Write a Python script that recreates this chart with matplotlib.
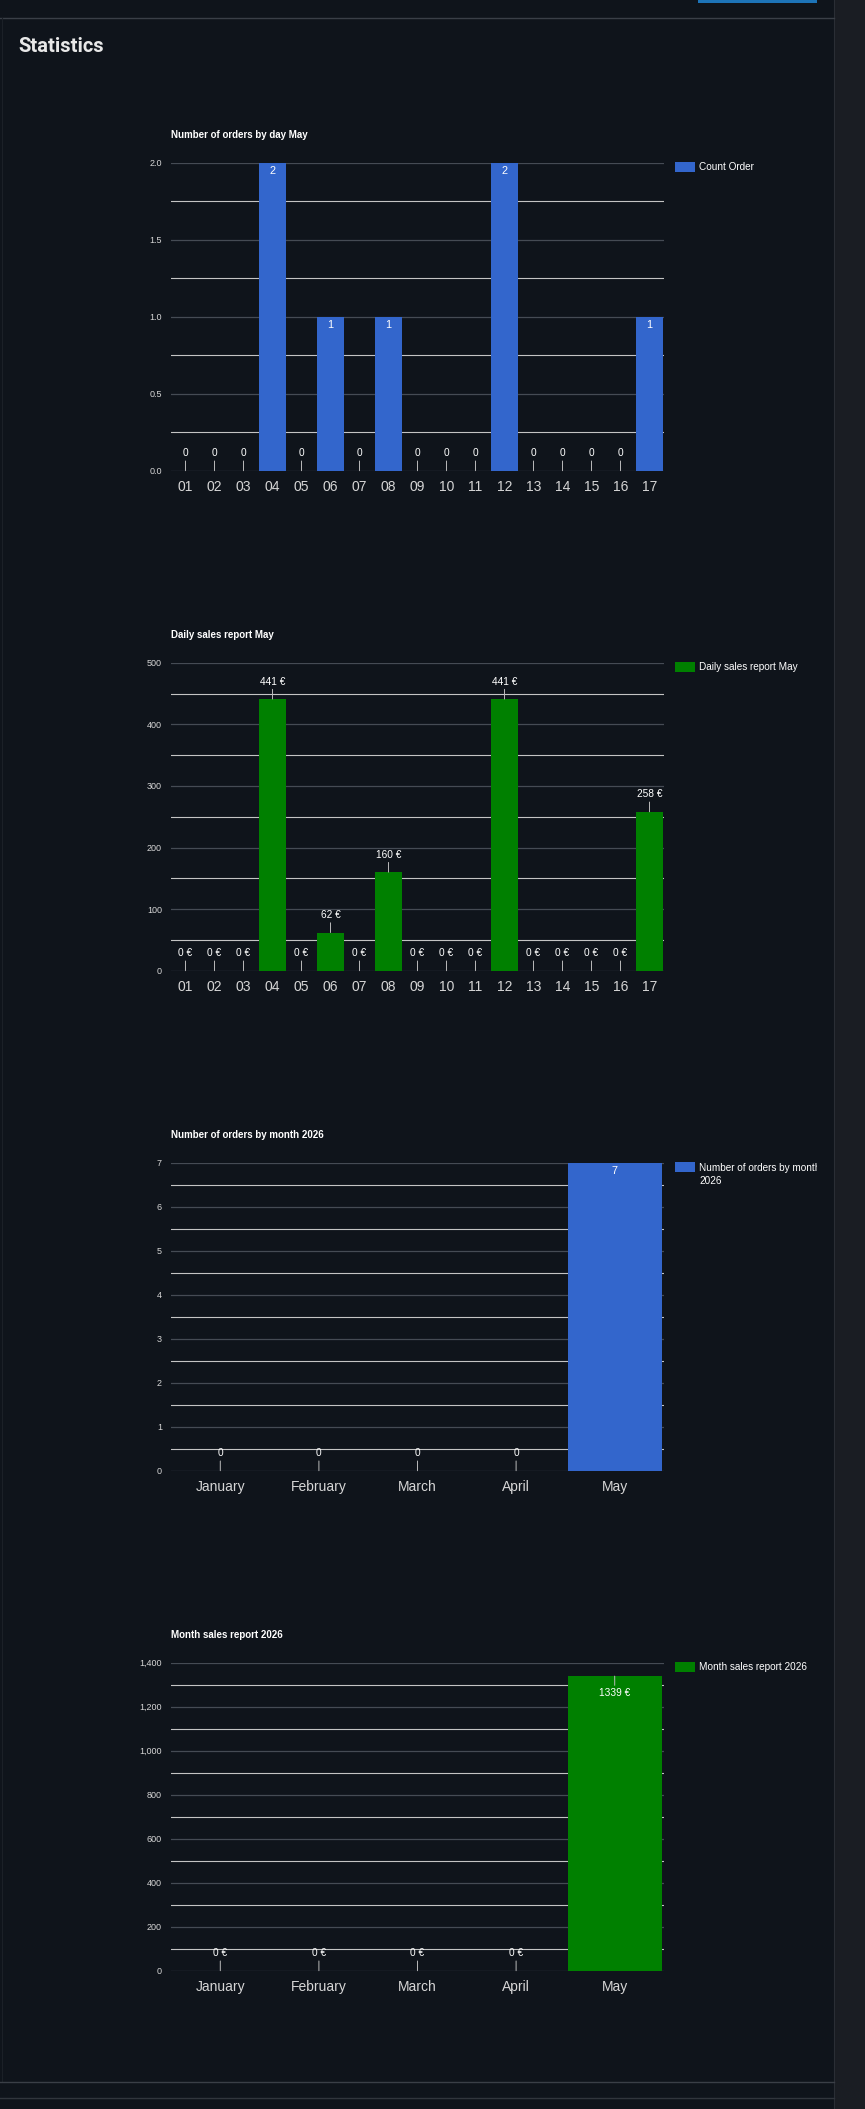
import matplotlib
matplotlib.use("Agg")
import matplotlib.pyplot as plt
from matplotlib.patches import Rectangle

# ---------------- data ----------------
days = ["01", "02", "03", "04", "05", "06", "07", "08", "09",
        "10", "11", "12", "13", "14", "15", "16", "17"]
day_orders = [0, 0, 0, 2, 0, 1, 0, 1, 0, 0, 0, 2, 0, 0, 0, 0, 1]
day_sales = [0, 0, 0, 441, 0, 62, 0, 160, 0, 0, 0, 441, 0, 0, 0, 0, 258]

months = ["January", "February", "March", "April", "May"]
month_orders = [0, 0, 0, 0, 7]
month_sales = [0, 0, 0, 0, 1339]

day_order_ticks = [0.0, 0.5, 1.0, 1.5, 2.0]
day_order_tick_labels = ["0.0", "0.5", "1.0", "1.5", "2.0"]
day_sales_ticks = [0, 100, 200, 300, 400, 500]
day_sales_tick_labels = ["0", "100", "200", "300", "400", "500"]
month_order_ticks = [0, 1, 2, 3, 4, 5, 6, 7]
month_order_tick_labels = ["0", "1", "2", "3", "4", "5", "6", "7"]
month_sales_ticks = [0, 200, 400, 600, 800, 1000, 1200, 1400]
month_sales_tick_labels = ["0", "200", "400", "600", "800", "1,000", "1,200", "1,400"]

titles = ["Number of orders by day May", "Daily sales report May",
          "Number of orders by month 2026", "Month sales report 2026"]
legend_labels = ["Count Order", "Daily sales report May",
                 "Number of orders by month 2026", "Month sales report 2026"]

# ---------------- style ----------------
W, H = 865, 2109
DPI = 100
BG = "#0f141b"
PANEL = "#1a1d23"
BLUE = "#3366cc"
GREEN = "#008000"
MAJOR = "#454b54"
MINOR = "#c4c4c4"
TXT = "#d6d6d6"
FONT = ["Liberation Sans", "DejaVu Sans"]

plt.rcParams["font.family"] = FONT

fig = plt.figure(figsize=(W / DPI, H / DPI), dpi=DPI, facecolor=BG)

bg = fig.add_axes([0, 0, 1, 1])
bg.set_xlim(0, W)
bg.set_ylim(H, 0)
bg.axis("off")
bg.set_facecolor(BG)

# page decorations
bg.add_patch(Rectangle((834, 0), W - 834, H, color=PANEL, lw=0))
bg.plot([834, 834], [0, H], color="#2a2e35", lw=0.8)
bg.plot([0, 834], [17.5, 17.5], color="#3a3f47", lw=1.0)
bg.plot([1.5, 1.5], [17.5, 2082], color="#1b2027", lw=0.8)
bg.plot([0, 834], [2082, 2082], color="#3a3f47", lw=1.0)
bg.plot([0, 834], [2098, 2098], color="#30353c", lw=1.0)
bg.add_patch(Rectangle((698, 0), 119, 2.5, color="#1d74b8", lw=0))
bg.text(18, 46, "Statistics", fontsize=14.5, fontweight="bold",
        family=["Roboto", "DejaVu Sans"], color="#e8e8e8", va="center", ha="left")

PX = 0.72  # points per pixel


def px_to_pt(p):
    return p * PX


def draw_chart(k, cats, vals, color, ticks, tick_labels, minor_step, ymax,
               fmt, inside_nonzero, stem_inside=False):
    top = 162.7 + 500 * k
    h = 308.0
    left, right = 171.0, 664.0
    ax = fig.add_axes([left / W, 1 - (top + h) / H, (right - left) / W, h / H])
    ax.set_facecolor("none")
    n = len(cats)
    ax.set_xlim(-0.5, n - 0.5)
    ax.set_ylim(0, ymax)
    for s in ax.spines.values():
        s.set_visible(False)
    # gridlines
    for t in ticks:
        ax.axhline(t, color=MAJOR, lw=0.9, zorder=1)
    m = minor_step
    while m < ymax:
        ax.axhline(m, color=MINOR, lw=0.8, zorder=1)
        m += 2 * minor_step
    ax.bar(range(n), vals, width=0.955, color=color, zorder=2, linewidth=0)
    ax.set_xticks(range(n))
    ax.set_xticklabels(cats, fontsize=10, color=TXT)
    ax.set_yticks(ticks)
    ax.set_yticklabels(tick_labels, fontsize=6.5, color=TXT)
    ax.tick_params(axis="both", length=0)
    ax.tick_params(axis="x", pad=px_to_pt(9))
    ax.tick_params(axis="y", pad=px_to_pt(9))
    # annotations
    for i, v in enumerate(vals):
        label = fmt(v)
        if v == 0 or not (inside_nonzero or stem_inside):
            ax.annotate(label, xy=(i, v), xytext=(0, px_to_pt(12.5)),
                        textcoords="offset points", ha="center", va="bottom",
                        fontsize=7.3, color="white", zorder=4,
                        arrowprops=dict(arrowstyle="-", color="#bbbbbb", lw=0.7,
                                        shrinkA=0, shrinkB=0))
        elif stem_inside:
            ax.annotate(label, xy=(i, v), xytext=(0, -px_to_pt(12)),
                        textcoords="offset points", ha="center", va="top",
                        fontsize=7.3, color="white", zorder=4,
                        arrowprops=dict(arrowstyle="-", color="#bbbbbb", lw=0.7,
                                        shrinkA=0, shrinkB=0))
        else:
            ax.annotate(label, xy=(i, v), xytext=(0, -px_to_pt(8)),
                        textcoords="offset points", ha="center", va="center",
                        fontsize=7.8, color="white", zorder=4)
    # title
    bg.text(171, top - 28, titles[k], fontsize=7, fontweight="bold",
            color="white", va="center", ha="left")
    # legend swatch
    bg.add_patch(Rectangle((675, top - 0.5), 20, 10, color=color, lw=0))
    return ax, top


euro = lambda v: f"{v} €"
plain = lambda v: f"{v}"

draw_chart(0, days, day_orders, BLUE, day_order_ticks, day_order_tick_labels,
           0.25, 2.0, plain, inside_nonzero=True)
draw_chart(1, days, day_sales, GREEN, day_sales_ticks, day_sales_tick_labels,
           50, 500, euro, inside_nonzero=False)
draw_chart(2, months, month_orders, BLUE, month_order_ticks, month_order_tick_labels,
           0.5, 7, plain, inside_nonzero=True)
draw_chart(3, months, month_sales, GREEN, month_sales_ticks, month_sales_tick_labels,
           100, 1400, euro, inside_nonzero=False, stem_inside=True)

# legend texts
for k in (0, 1, 3):
    top = 162.7 + 500 * k
    bg.text(699, top + 4.5, legend_labels[k], fontsize=7.2, color="white",
            va="center", ha="left")

top = 162.7 + 500 * 2
words = legend_labels[2].rsplit(" ", 1)
t1 = bg.text(699, top + 5.5, words[0], fontsize=7.2, color="white",
             va="center", ha="left")
clip = Rectangle((690, top - 20), 126.5, 60, transform=bg.transData,
                 facecolor="none", edgecolor="none")
t1.set_clip_path(clip)
t1.set_clip_on(True)
bg.text(699, top + 18.5, words[1], fontsize=7.2, color="white",
        va="center", ha="left")

fig.savefig("out.png", dpi=DPI, facecolor=BG)
